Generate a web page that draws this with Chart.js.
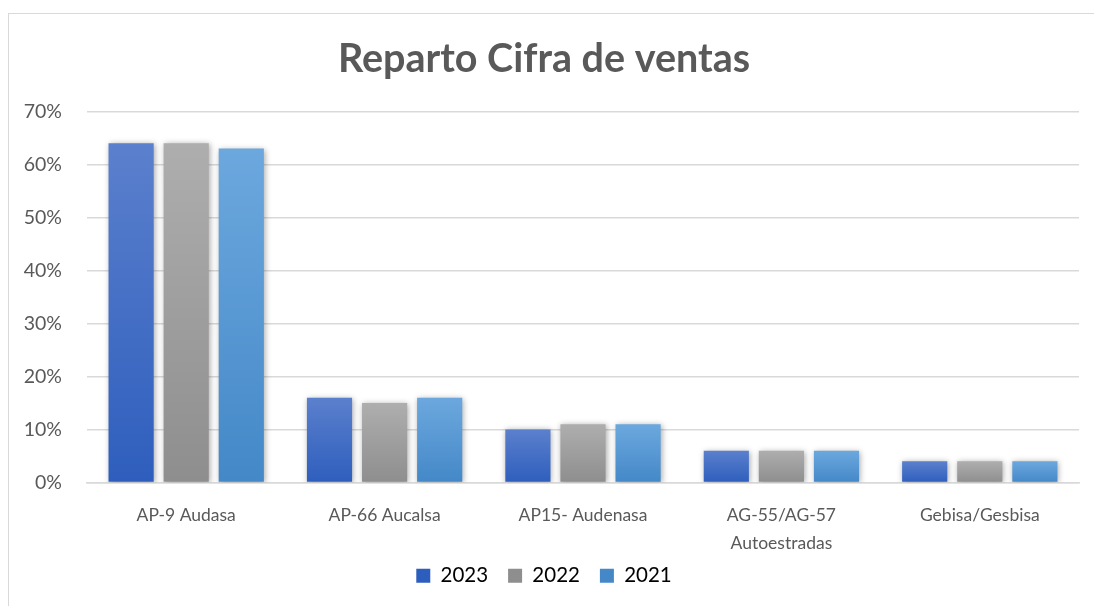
<!DOCTYPE html>
<html lang="es">
<head>
  <meta charset="UTF-8">
  <title>Reparto Cifra de ventas</title>
  <script src="https://cdn.jsdelivr.net/npm/chart.js"></script>
  <style>
    body { margin: 0; background: #fff; overflow: hidden; }
    .marco {
      position: absolute; left: 8px; top: 13px;
      width: 1100px; height: 600px;
      border: 1px solid #d9d9d9;
    }
    .grafico { position: absolute; left: 0; top: 0; width: 1086px; height: 593px; }
  </style>
</head>
<body>
  <div class="marco">
    <div class="grafico"><canvas id="graficoVentas"></canvas></div>
  </div>

  <script>
    const categorias = ['AP-9 Audasa', 'AP-66 Aucalsa', 'AP15- Audenasa', ['AG-55/AG-57', 'Autoestradas'], 'Gebisa/Gesbisa'];
    const anos = ['2023', '2022', '2021'];
    const ventas2023 = [64, 16, 10, 6, 4];
    const ventas2022 = [64, 15, 11, 6, 4];
    const ventas2021 = [63, 16, 11, 6, 4];

    // colores degradados (arriba, abajo)
    const colores = [
      ['#5b80cd', '#2e5ebd'],
      ['#aeaeae', '#8e8e8e'],
      ['#6ca8de', '#4488c8']
    ];

    function degradado(i) {
      return function (context) {
        const chart = context.chart;
        const y = chart.scales.y;
        if (!chart.chartArea || !y || context.raw === undefined) return colores[i][1];
        const top = y.getPixelForValue(context.raw);
        const bottom = y.getPixelForValue(0);
        if (!isFinite(top) || !isFinite(bottom) || top === bottom) return colores[i][1];
        const g = chart.ctx.createLinearGradient(0, top, 0, bottom);
        g.addColorStop(0, colores[i][0]);
        g.addColorStop(1, colores[i][1]);
        return g;
      };
    }

    // sombra suave bajo las barras
    const sombra = {
      id: 'sombra',
      beforeDraw(chart) {
        // que la segunda línea de la etiqueta del eje x no se recorte
        if (chart.scales.x) chart.scales.x._computeLabelArea = () => undefined;
      },
      beforeDatasetsDraw(chart) {
        const ctx = chart.ctx;
        ctx.save();
        ctx.shadowColor = 'rgba(0,0,0,0.35)';
        ctx.shadowBlur = 6;
        ctx.shadowOffsetX = 1;
        ctx.shadowOffsetY = 1;
      },
      afterDatasetsDraw(chart) {
        chart.ctx.restore();
      }
    };

    const series = [ventas2023, ventas2022, ventas2021];

    new Chart(document.getElementById('graficoVentas'), {
      type: 'bar',
      data: {
        labels: categorias,
        datasets: series.map((d, i) => ({
          label: anos[i],
          data: d,
          backgroundColor: degradado(i),
          borderWidth: 0,
          categoryPercentage: 0.833,
          barPercentage: 0.82
        }))
      },
      plugins: [sombra],
      options: {
        responsive: true,
        maintainAspectRatio: false,
        animation: false,
        layout: { padding: { left: 0, right: 16, top: 0, bottom: 11 } },
        plugins: {
          title: {
            display: true,
            text: 'Reparto Cifra de ventas',
            color: '#595959',
            font: { family: 'Lato', size: 39.5, weight: 'bold' },
            padding: { top: 22, bottom: 28 }
          },
          legend: {
            position: 'bottom',
            labels: {
              color: '#595959',
              font: { family: 'Lato', size: 20.5 },
              boxWidth: 14,
              boxHeight: 14,
              padding: 20,
              generateLabels(chart) {
                return chart.data.datasets.map((ds, i) => ({
                  text: ds.label,
                  fillStyle: colores[i][1],
                  strokeStyle: colores[i][1],
                  lineWidth: 0,
                  datasetIndex: i,
                  hidden: false
                }));
              }
            }
          },
          tooltip: { enabled: false }
        },
        scales: {
          x: {
            grid: { display: false, drawTicks: false },
            border: { color: '#d9d9d9', width: 1.5 },
            ticks: {
              color: '#595959',
              font: { family: 'Lato', size: 17.5, lineHeight: 1.6 },
              padding: 19,
              maxRotation: 0,
              autoSkip: false
            },
            afterFit(s) { s.height = 63; }
          },
          y: {
            min: 0,
            max: 70,
            grid: { color: '#d9d9d9', lineWidth: 1.5, drawTicks: false },
            border: { display: false },
            ticks: {
              stepSize: 10,
              color: '#595959',
              font: { family: 'Lato', size: 19.5 },
              padding: 25,
              callback: v => v + '%'
            },
            afterFit(s) { s.width = 78; }
          }
        }
      }
    });
  </script>
</body>
</html>
